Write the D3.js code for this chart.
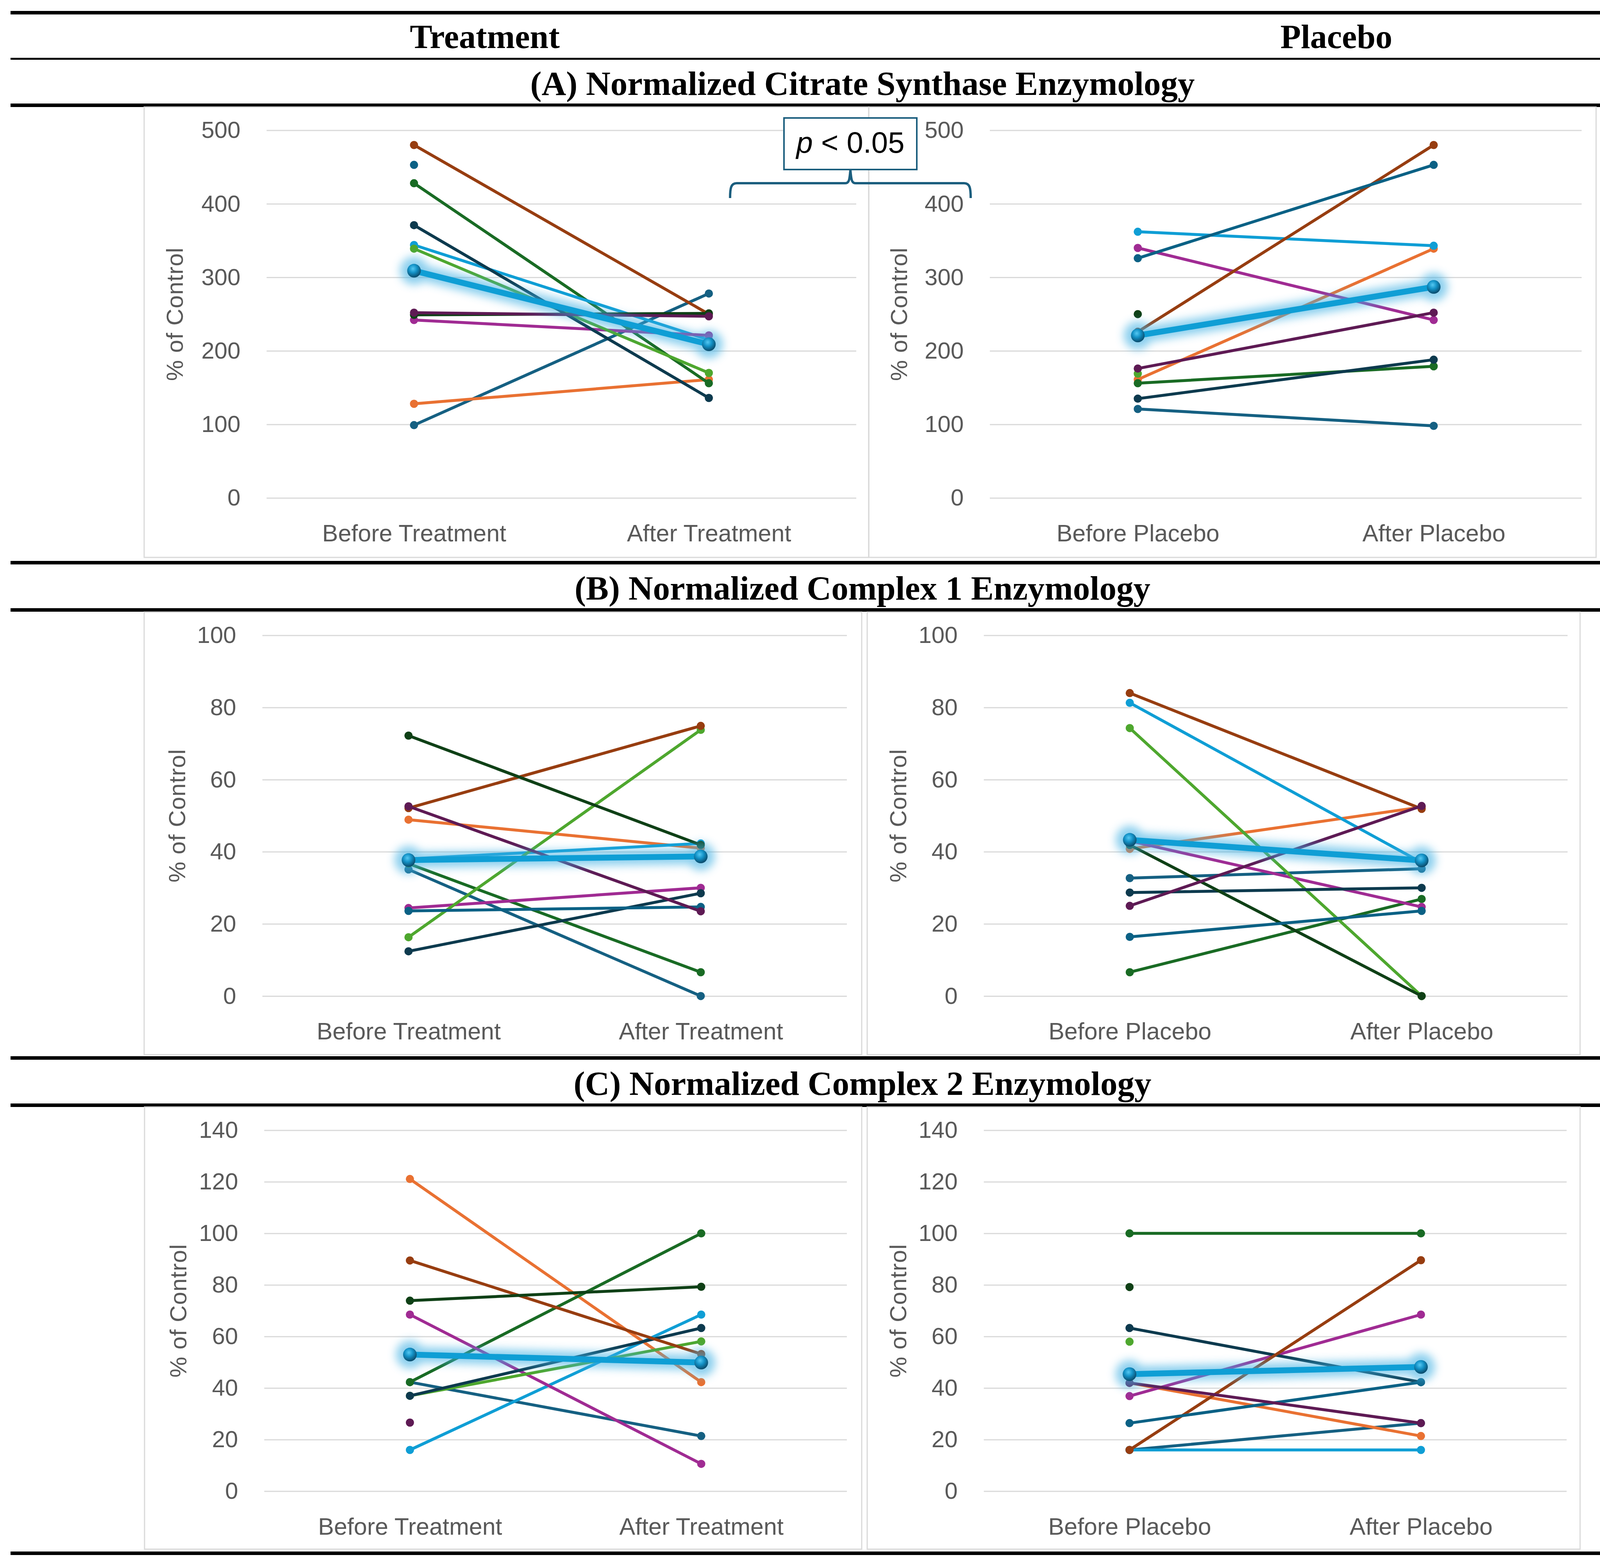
<!DOCTYPE html>
<html><head><meta charset="utf-8">
<script src="https://cdn.jsdelivr.net/npm/d3@7"></script>
<style>html,body{margin:0;padding:0;background:#fff;} svg{display:block}</style>
</head><body>
<svg id="chart" width="4424" height="4004"></svg>
<script>
// ---------------- data ----------------
const columnHeaders = ["Treatment", "Placebo"];
const rowTitles = [
  "(A) Normalized Citrate Synthase Enzymology",
  "(B) Normalized Complex 1 Enzymology",
  "(C) Normalized Complex 2 Enzymology"
];
const treatmentCategories = ["Before Treatment", "After Treatment"];
const placeboCategories = ["Before Placebo", "After Placebo"];
const yAxisTitle = "% of Control";
const pValueItalic = "p";
const pValueRest = " < 0.05";

// one colour per subject series (Excel Office palette)
const subjectColors = ["#156082", "#E97132", "#196B24", "#0F9ED5", "#A02B93", "#4EA72E",
                       "#0D3A4E", "#973D10", "#0F4016", "#0B6185", "#5E1A54"];
const meanColor = "#0F9ED5";

const csTicks = [0, 100, 200, 300, 400, 500];
const c1Ticks = [0, 20, 40, 60, 80, 100];
const c2Ticks = [0, 20, 40, 60, 80, 100, 120, 140];

// (A) Citrate synthase
const csTreatmentBefore = [99, 128, 428, 344, 242, 339, 371, 480, 249, 453, 252];
const csTreatmentAfter  = [278, 161, 156, 215, 221, 170, 136, 250, 251, null, 247];
const csTreatmentMean   = [309, 209];
const csPlaceboBefore   = [121, 161, 156, 362, 340, 169, 135, 226, 250, 326, 176];
const csPlaceboAfter    = [98, 339, 179, 343, 242, null, 188, 480, null, 453, 252];
const csPlaceboMean     = [221, 287];

// (B) Complex 1
const c1TreatmentBefore = [35.1, 48.9, 36.7, 38.0, 24.4, 16.3, 12.4, 52.1, 72.2, 23.6, 52.6];
const c1TreatmentAfter  = [0, 41.0, 6.6, 42.3, 30.0, 73.8, 28.5, 74.9, 41.9, 24.7, 23.5];
const c1TreatmentMean   = [37.7, 38.7];
const c1PlaceboBefore   = [32.7, 40.8, 6.6, 81.3, 43.0, 74.3, 28.7, 84.0, 41.9, 16.4, 25.0];
const c1PlaceboAfter    = [35.3, 52.4, 26.9, 37.0, 24.7, 0, 30.0, 51.9, 0, 23.6, 52.7];
const c1PlaceboMean     = [43.3, 37.6];

// (C) Complex 2
const c2TreatmentBefore = [42.3, 121.1, 42.3, 16.0, 68.5, 37.0, 37.0, 89.5, 73.9, null, 26.6];
const c2TreatmentAfter  = [21.4, 42.3, 100.0, 68.5, 10.6, 58.1, 63.3, 53.2, 79.3, null, null];
const c2TreatmentMean   = [53.0, 49.9];
const c2PlaceboBefore   = [16.0, 42.0, 100.0, 16.0, 36.9, 58.0, 63.3, 16.0, 79.2, 26.4, 42.0];
const c2PlaceboAfter    = [26.4, 21.4, 100.0, 16.0, 68.5, null, 42.3, 89.6, null, 42.3, 26.4];
const c2PlaceboMean     = [45.4, 48.2];

// ---------------- layout ----------------
const svg = d3.select("#chart");
const W = 4424, H = 4004;
svg.append("rect").attr("width", W).attr("height", H).attr("fill", "#fff");

const SANS = "'Liberation Sans', Arial, sans-serif";
const SERIF = "'Liberation Serif', 'Times New Roman', serif";
const TXT = "#595959";
const GRID = "#d9d9d9";

const defs = svg.append("defs");
const glow = defs.append("filter").attr("id", "glow")
  .attr("filterUnits", "userSpaceOnUse").attr("x", 0).attr("y", 0).attr("width", W).attr("height", H);
glow.append("feGaussianBlur").attr("stdDeviation", 11);
const grad = defs.append("radialGradient").attr("id", "sphere")
  .attr("cx", "42%").attr("cy", "35%").attr("r", "65%");
grad.append("stop").attr("offset", "0%").attr("stop-color", "#55c8f2");
grad.append("stop").attr("offset", "45%").attr("stop-color", "#1493c8");
grad.append("stop").attr("offset", "100%").attr("stop-color", "#0a4a6a");

const rows = [
  { title: rowTitles[0], titleY: 243, ticks: csTicks, plotTop: 333.6, plotBottom: 1274.7,
    boxTop: 274, boxBottom: 1427,
    panels: [
      { cats: treatmentCategories, before: csTreatmentBefore, after: csTreatmentAfter, mean: csTreatmentMean,
        x0: 682.5, x1: 2192, box: [369, 2224], titleX: 447 },
      { cats: placeboCategories, before: csPlaceboBefore, after: csPlaceboAfter, mean: csPlaceboMean,
        x0: 2534, x1: 4049, box: [2224, 4086], titleX: 2301 }
    ] },
  { title: rowTitles[1], titleY: 1535, ticks: c1Ticks, plotTop: 1626.6, plotBottom: 2549.9,
    boxTop: 1567, boxBottom: 2700,
    panels: [
      { cats: treatmentCategories, before: c1TreatmentBefore, after: c1TreatmentAfter, mean: c1TreatmentMean,
        x0: 671.7, x1: 2168, box: [369, 2206], titleX: 453 },
      { cats: placeboCategories, before: c1PlaceboBefore, after: c1PlaceboAfter, mean: c1PlaceboMean,
        x0: 2518.6, x1: 4013, box: [2220, 4045], titleX: 2299 }
    ] },
  { title: rowTitles[2], titleY: 2803, ticks: c2Ticks, plotTop: 2893.6, plotBottom: 3817.6,
    boxTop: 2834, boxBottom: 3966,
    panels: [
      { cats: treatmentCategories, before: c2TreatmentBefore, after: c2TreatmentAfter, mean: c2TreatmentMean,
        x0: 676.5, x1: 2168, box: [370, 2206], titleX: 456 },
      { cats: placeboCategories, before: c2PlaceboBefore, after: c2PlaceboAfter, mean: c2PlaceboMean,
        x0: 2518.6, x1: 4010.6, box: [2220, 4045], titleX: 2299 }
    ] }
];

// ---------------- rules and headings ----------------
const ruleSpecs = [[28, 9], [148, 5], [265, 9], [1436, 9], [1557, 9], [2704, 9], [2825, 9], [3972, 9]];
ruleSpecs.forEach(([y, h]) => {
  svg.append("rect").attr("x", 27).attr("y", y).attr("width", 4392 - 27).attr("height", h).attr("fill", "#000");
});
const headerX = [1241, 3421];
columnHeaders.forEach((t, i) => {
  svg.append("text").attr("x", headerX[i]).attr("y", 123).attr("text-anchor", "middle")
    .attr("font-family", SERIF).attr("font-weight", "bold").attr("font-size", 86).attr("fill", "#000").text(t);
});

// ---------------- panels ----------------
function drawPanel(row, p) {
  const g = svg.append("g");
  const x = d3.scalePoint().domain(p.cats).range([p.x0, p.x1]).padding(0.5);
  const y = d3.scaleLinear().domain([0, d3.max(row.ticks)]).range([row.plotBottom, row.plotTop]);

  g.append("rect").attr("x", p.box[0]).attr("y", row.boxTop)
    .attr("width", p.box[1] - p.box[0]).attr("height", row.boxBottom - row.boxTop)
    .attr("fill", "none").attr("stroke", GRID).attr("stroke-width", 3);

  const ya = g.append("g").attr("transform", `translate(${p.x0},0)`)
    .call(d3.axisLeft(y).tickValues(row.ticks).tickSize(-(p.x1 - p.x0)).tickPadding(67).tickFormat(d3.format("d")));
  ya.select(".domain").remove();
  ya.attr("font-family", SANS).attr("font-size", 60);
  ya.selectAll(".tick line").attr("stroke", GRID).attr("stroke-width", 3);
  ya.selectAll(".tick text").attr("fill", TXT);

  const xa = g.append("g").attr("transform", `translate(0,${row.plotBottom})`)
    .call(d3.axisBottom(x).tickSize(0).tickPadding(0));
  xa.select(".domain").remove();
  xa.attr("font-family", SANS).attr("font-size", 61);
  xa.selectAll(".tick text").attr("dy", 0).attr("y", 111).attr("fill", TXT);

  g.append("text")
    .attr("transform", `translate(${p.titleX},${(row.plotTop + row.plotBottom) / 2}) rotate(-90)`)
    .attr("text-anchor", "middle").attr("dominant-baseline", "central")
    .attr("font-family", SANS).attr("font-size", 60).attr("letter-spacing", 1).attr("fill", TXT)
    .text(yAxisTitle);

  const line = d3.line().x(d => x(d.c)).y(d => y(d.v));
  const subjects = p.before.map((b, i) => ({ i, pts: [{ c: p.cats[0], v: b }, { c: p.cats[1], v: p.after[i] }] }));

  const sg = g.append("g");
  subjects.forEach(s => {
    const valid = s.pts.filter(d => d.v !== null);
    if (valid.length === 2) {
      sg.append("path").attr("d", line(valid)).attr("fill", "none")
        .attr("stroke", subjectColors[s.i]).attr("stroke-width", 7.5).attr("stroke-linecap", "round");
    }
    valid.forEach(d => {
      sg.append("circle").attr("cx", x(d.c)).attr("cy", y(d.v)).attr("r", 10.5).attr("fill", subjectColors[s.i]);
    });
  });

  const meanPts = [{ c: p.cats[0], v: p.mean[0] }, { c: p.cats[1], v: p.mean[1] }];
  const gl = g.append("g").attr("filter", "url(#glow)").attr("opacity", 0.6);
  gl.append("path").attr("d", line(meanPts)).attr("fill", "none")
    .attr("stroke", "#3fb0e3").attr("stroke-width", 40).attr("stroke-linecap", "round");
  meanPts.forEach(d => {
    gl.append("circle").attr("cx", x(d.c)).attr("cy", y(d.v)).attr("r", 36).attr("fill", "#3fb0e3");
  });
  g.append("path").attr("d", line(meanPts)).attr("fill", "none")
    .attr("stroke", meanColor).attr("stroke-width", 15);
  meanPts.forEach(d => {
    g.append("circle").attr("cx", x(d.c)).attr("cy", y(d.v)).attr("r", 17.5).attr("fill", "url(#sphere)");
  });
}

rows.forEach(row => {
  svg.append("text").attr("x", 2208).attr("y", row.titleY).attr("text-anchor", "middle")
    .attr("font-family", SERIF).attr("font-weight", "bold").attr("font-size", 87).attr("fill", "#000")
    .text(row.title);
  row.panels.forEach(p => drawPanel(row, p));
});

// ---------------- significance annotation ----------------
const ann = svg.append("g");
ann.append("path")
  .attr("d", "M1869,507 C1869,482 1871,469 1886,469 L2164,469 C2173,469 2175,462 2177,434 C2179,462 2181,469 2190,469 L2468,469 C2483,469 2485,482 2485,507")
  .attr("fill", "none").attr("stroke", "#1B5E7E").attr("stroke-width", 6);
ann.append("rect").attr("x", 2007).attr("y", 302).attr("width", 340).attr("height", 132)
  .attr("fill", "#fff").attr("stroke", "#1B5E7E").attr("stroke-width", 4);
const pt = ann.append("text").attr("x", 2177).attr("y", 391).attr("text-anchor", "middle")
  .attr("font-family", SANS).attr("font-size", 76).attr("fill", "#000");
pt.append("tspan").attr("font-style", "italic").text(pValueItalic);
pt.append("tspan").text(pValueRest);
</script>
</body></html>
